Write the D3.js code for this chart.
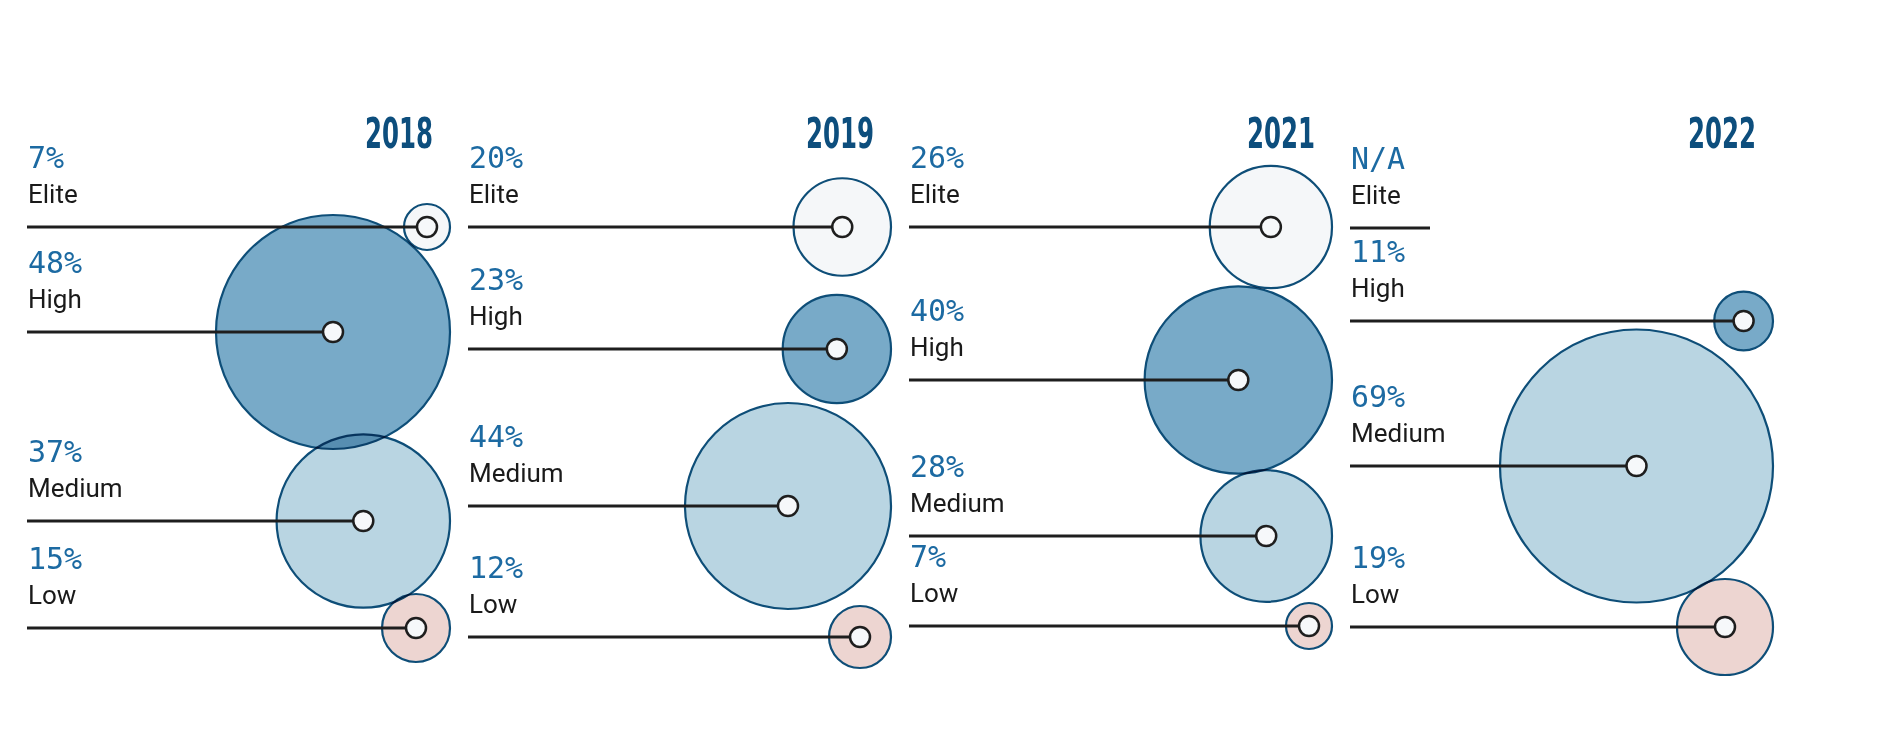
<!DOCTYPE html>
<html>
<head>
<meta charset="utf-8">
<script src="https://cdn.jsdelivr.net/npm/d3@7/dist/d3.min.js"></script>
<style>
  html, body { margin: 0; padding: 0; background: #ffffff; }
  svg { display: block; }
</style>
</head>
<body>
<svg id="chart" width="1880" height="742"></svg>
<script>
// ---- data ----
const years   = ["2018", "2019", "2021", "2022"];
const tiers   = ["Elite", "High", "Medium", "Low"];
const elite   = [7, 20, 26, null];
const high    = [48, 23, 40, 11];
const medium  = [37, 44, 28, 69];
const low     = [15, 12, 7, 19];

// ---- layout (designer's vertical placement of each tier row, per year) ----
const rowY = {
  "2018": [227, 332, 521, 628],
  "2019": [227, 349, 506, 637],
  "2021": [227, 380, 536, 626],
  "2022": [228, 321, 466, 627]
};

const svg = d3.select("#chart");

const series = { Elite: elite, High: high, Medium: medium, Low: low };
const fills  = { Elite: "#f5f7f9", High: "#78aac8", Medium: "#b9d5e2", Low: "#edd5d1" };

// panel positions
const xPanel = d3.scaleBand().domain(years).range([27, 27 + 441 * 4]);
const panelRight = 423;   // right edge of bubbles relative to panel left
const yearRight = 406;

// bubble radius scale
const r = d3.scaleLinear()
  .domain([7, 12, 15, 19, 21, 44, 48, 69])
  .range([23, 31, 34, 48, 49.5, 103, 117, 136.5]);

years.forEach((yr, i) => {
  const left = xPanel(yr);
  const g = svg.append("g").attr("class", "panel");
  const rows = tiers.map((t, j) => ({ tier: t, value: series[t][i], y: rowY[yr][j] }));
  const withVal = rows.filter(d => d.value != null);

  // year label
  g.append("text")
    .attr("x", left + yearRight)
    .attr("y", 148)
    .attr("text-anchor", "end")
    .attr("font-family", "'Liberation Sans Narrow', 'DejaVu Sans Condensed', 'Arial Narrow', sans-serif")
    .attr("font-weight", "bold")
    .attr("font-size", 43)
    .attr("textLength", 68)
    .attr("lengthAdjust", "spacingAndGlyphs")
    .attr("fill", "#0d4e7d")
    .text(yr);

  // bubbles
  g.selectAll("circle.bubble").data(withVal).enter().append("circle")
    .attr("class", "bubble")
    .attr("cx", d => left + panelRight - r(d.value))
    .attr("cy", d => d.y)
    .attr("r", d => r(d.value))
    .attr("fill", d => fills[d.tier])
    .attr("stroke", "#0e4e78")
    .attr("stroke-width", 2.2)
    .style("mix-blend-mode", "multiply");

  // labels
  rows.forEach(d => {
    g.append("text")
      .attr("x", left + 1)
      .attr("y", d.y - 59)
      .attr("font-family", "'DejaVu Sans Mono', 'Liberation Mono', monospace")
      .attr("font-size", 30)
      .attr("fill", "#1c6aa2")
      .text(d.value == null ? "N/A" : d.value + "%");
    g.append("text")
      .attr("x", left + 1)
      .attr("y", d.y - 24)
      .attr("font-family", "Roboto, 'Noto Sans', sans-serif")
      .attr("font-size", 26)
      .attr("fill", "#1a1a1a")
      .text(d.tier);
  });

  // leader lines
  g.selectAll("line.lead").data(rows).enter().append("line")
    .attr("class", "lead")
    .attr("x1", left)
    .attr("x2", d => d.value == null ? left + 80 : left + panelRight - r(d.value))
    .attr("y1", d => d.y)
    .attr("y2", d => d.y)
    .attr("stroke", "#1e1e1e")
    .attr("stroke-width", 2.8);

  // center dots
  g.selectAll("circle.dot").data(withVal).enter().append("circle")
    .attr("class", "dot")
    .attr("cx", d => left + panelRight - r(d.value))
    .attr("cy", d => d.y)
    .attr("r", 10)
    .attr("fill", "#f6f8fa")
    .attr("stroke", "#1e1e1e")
    .attr("stroke-width", 2.5);
});
</script>
</body>
</html>
